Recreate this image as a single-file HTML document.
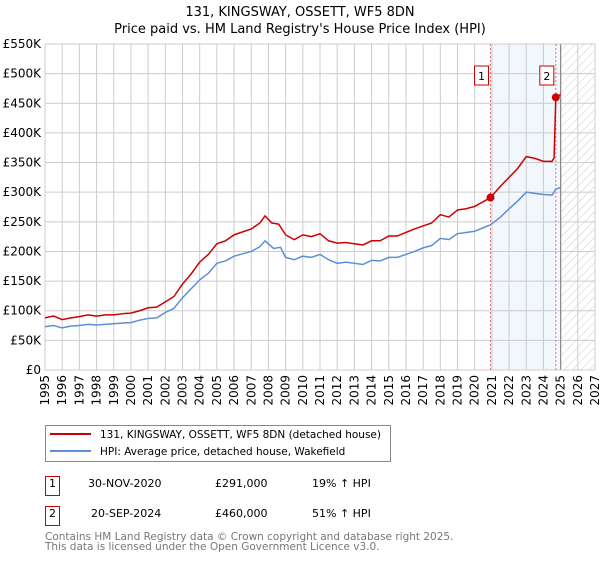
<!DOCTYPE html>
<html><head><meta charset="utf-8"><style>
body{margin:0;background:#fff;font-family:"DejaVu Sans","Liberation Sans",sans-serif;}
svg text{font-family:"DejaVu Sans","Liberation Sans",sans-serif;}
</style></head><body>
<svg id="chart" width="600" height="560" xmlns="http://www.w3.org/2000/svg">
<defs><pattern id="hatch" width="6" height="6" patternUnits="userSpaceOnUse" patternTransform="rotate(45)"><line x1="0" y1="0" x2="0" y2="6" stroke="#ccc" stroke-width="1"/></pattern></defs>
<text x="300" y="16" text-anchor="middle" font-size="13">131, KINGSWAY, OSSETT, WF5 8DN</text>
<text x="300" y="33" text-anchor="middle" font-size="13">Price paid vs. HM Land Registry's House Price Index (HPI)</text>
<g id="plot"></g>
<g>
<rect x="45.5" y="425.5" width="345" height="36" fill="#fff" stroke="#888"/>
<line x1="50" y1="434" x2="91" y2="434" stroke="#cc0000" stroke-width="2"/>
<text x="100" y="438" font-size="10.5">131, KINGSWAY, OSSETT, WF5 8DN (detached house)</text>
<line x1="50" y1="451" x2="91" y2="451" stroke="#5b8fd6" stroke-width="2"/>
<text x="100" y="455" font-size="10.5">HPI: Average price, detached house, Wakefield</text>
</g>
<g font-size="11">
<rect x="45.5" y="476.5" width="14" height="19" fill="#fff" stroke="#cc0000"/>
<text x="52.5" y="487" text-anchor="middle">1</text>
<text x="88" y="487">30-NOV-2020</text><text x="215" y="487">£291,000</text><text x="312" y="487">19% ↑ HPI</text>
<rect x="45.5" y="506.5" width="14" height="19" fill="#fff" stroke="#cc0000"/>
<text x="52.5" y="517" text-anchor="middle">2</text>
<text x="91" y="517">20-SEP-2024</text><text x="215" y="517">£460,000</text><text x="312" y="517">51% ↑ HPI</text>
</g>
<text x="45" y="540" font-size="10.5" fill="#777">Contains HM Land Registry data © Crown copyright and database right 2025.</text>
<text x="45" y="550" font-size="10.5" fill="#777">This data is licensed under the Open Government Licence v3.0.</text>
</svg>
<script>
const hpiYears=[1995,1995.5,1996,1996.5,1997,1997.5,1998,1998.5,1999,1999.5,2000,2000.5,2001,2001.5,2002,2002.5,2003,2003.5,2004,2004.5,2005,2005.5,2006,2006.5,2007,2007.5,2007.8,2008.3,2008.7,2009,2009.5,2010,2010.5,2011,2011.5,2012,2012.5,2013,2013.5,2014,2014.5,2015,2015.5,2016,2016.5,2017,2017.5,2018,2018.5,2019,2019.5,2020,2020.5,2020.92,2021.5,2022,2022.5,2023,2023.5,2024,2024.5,2024.72,2025];
const hpiValues=[73,75,71,74,75,77,76,77,78,79,80,84,87,88,97,104,122,137,152,163,180,184,192,196,200,208,218,205,207,190,186,192,190,195,186,180,182,180,178,185,184,190,190,195,200,206,210,222,220,230,232,234,240,245,258,272,285,300,298,296,295,305,308];
const priceYears=[1995,1995.5,1996,1996.5,1997,1997.5,1998,1998.5,1999,1999.5,2000,2000.5,2001,2001.5,2002,2002.5,2003,2003.5,2004,2004.5,2005,2005.5,2006,2006.5,2007,2007.5,2007.8,2008.2,2008.6,2009,2009.5,2010,2010.5,2011,2011.5,2012,2012.5,2013,2013.5,2014,2014.5,2015,2015.5,2016,2016.5,2017,2017.5,2018,2018.5,2019,2019.5,2020,2020.5,2020.92,2021.5,2022,2022.5,2023,2023.5,2024,2024.5,2024.62,2024.72,2025];
const priceValues=[88,91,85,88,90,93,91,93,93,95,96,100,105,106,115,124,145,162,182,195,213,218,228,233,238,248,260,248,246,228,220,228,225,230,218,214,215,213,211,218,218,226,226,232,238,243,248,262,258,270,272,276,284,291,310,325,340,360,357,352,352,358,460,465];
const saleYears=[2020.92,2024.72];
const saleValues=[291,460];
const yTicks=[0,50,100,150,200,250,300,350,400,450,500,550];
const yLabels=["£0","£50K","£100K","£150K","£200K","£250K","£300K","£350K","£400K","£450K","£500K","£550K"];
const xTicks=[1995,1996,1997,1998,1999,2000,2001,2002,2003,2004,2005,2006,2007,2008,2009,2010,2011,2012,2013,2014,2015,2016,2017,2018,2019,2020,2021,2022,2023,2024,2025,2026,2027];

const X0=45,X1=595,Y0=370,Y1=44;
const x=v=>X0+(v-1995)/(2027-1995)*(X1-X0);
const y=v=>Y0-v/550*(Y0-Y1);
const NS="http://www.w3.org/2000/svg";
const g=document.getElementById('plot');
function mk(t,a,parent){const e=document.createElementNS(NS,t);for(const k in a)e.setAttribute(k,a[k]);(parent||g).appendChild(e);return e;}

let e=mk('rect',{x:x(2020.92),y:Y1,width:x(2025)-x(2020.92),height:Y0-Y1,fill:'#f2f6fd'});


e=mk('rect',{x:x(2025),y:Y1,width:X1-x(2025),height:Y0-Y1,fill:'url(#hatch)'});



yTicks.forEach((t,i)=>{
  let l=mk('line',{x1:X0,x2:X1,y1:y(t),y2:y(t),stroke:'#ccc','stroke-width':1});
  
  
  let tx=mk('text',{x:X0-4,y:y(t)+4,'text-anchor':'end','font-size':12});
  tx.textContent=yLabels[i];
  
  
});
xTicks.forEach(t=>{
  let l=mk('line',{x1:x(t),x2:x(t),y1:Y1,y2:Y0,stroke:'#ccc','stroke-width':1});
  
  
  let tx=mk('text',{x:0,y:0,'text-anchor':'end','font-size':12,transform:`translate(${x(t)+4},${Y0+5}) rotate(-90)`});
  tx.textContent=t;
  
  
});
e=mk('line',{x1:x(2025),x2:x(2025),y1:Y1,y2:Y0,stroke:'#888','stroke-width':1.2});


e=mk('rect',{x:X0,y:Y1,width:X1-X0,height:Y0-Y1,fill:'none',stroke:'#ccc'});



saleYears.forEach((s,i)=>{
  let l=mk('line',{x1:x(s),x2:x(s),y1:Y1,y2:Y0,stroke:'#f07070','stroke-dasharray':'2,2','stroke-width':1});
  
  
});

let hp=mk('polyline',{points:hpiYears.map((v,i)=>x(v)+','+y(hpiValues[i])).join(' '),fill:'none',stroke:'#5b8fd6','stroke-width':1.5});


let pp=mk('polyline',{points:priceYears.map((v,i)=>x(v)+','+y(priceValues[i])).join(' '),fill:'none',stroke:'#cc0000','stroke-width':1.5});



saleYears.forEach((s,i)=>{
  let c=mk('circle',{cx:x(s),cy:y(saleValues[i]),r:4,fill:'#cc0000'});
  
  
  let r=mk('rect',{x:x(s)-16,y:66,width:14,height:19,fill:'#fff',stroke:'#cc0000'});
  
  
  let t=mk('text',{x:x(s)-9,y:80,'text-anchor':'middle','font-size':11});
  t.textContent=String(i+1);
  
  
});
</script>
</body></html>
